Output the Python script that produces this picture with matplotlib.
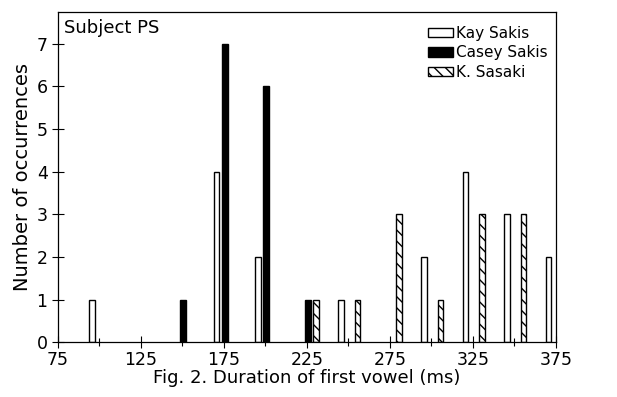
import numpy as np
import matplotlib.pyplot as plt
from matplotlib.patches import Patch

# duraciones (ms) y numero de ocurrencias por hablante
kay_ms = [95, 170, 195, 245, 295, 320, 345, 370]
kay_n = [1, 4, 2, 1, 2, 4, 3, 2]

casey_ms = [150, 175, 200, 225]
casey_n = [1, 7, 6, 1]

sasaki_ms = [230, 255, 280, 305, 330, 355]
sasaki_n = [1, 1, 3, 1, 3, 3]

xticks = [75, 125, 175, 225, 275, 325, 375]
yticks = [0, 1, 2, 3, 4, 5, 6, 7]

plt.rcParams['font.family'] = 'DejaVu Sans'
plt.rcParams['hatch.linewidth'] = 1.0

fig = plt.figure(figsize=(6.17, 3.97), dpi=100)
ax = fig.add_axes([0.094, 0.138, 0.807, 0.832])

w = 3.4
ax.bar(np.array(kay_ms) + 0.5, kay_n, width=w, color='white', edgecolor='black', linewidth=1.0)
ax.bar(np.array(casey_ms) + 0.5, casey_n, width=w, color='black', edgecolor='black', linewidth=1.0)
ax.bar(np.array(sasaki_ms) + 0.5, sasaki_n, width=w, color='white', edgecolor='black',
       linewidth=1.0, hatch='\\\\\\')

ax.set_xlim(75, 375)
ax.set_ylim(0, 7.75)
ax.set_xticks(xticks)
ax.set_xticks(np.arange(75, 376, 25), minor=True)
ax.set_yticks(yticks)
ax.tick_params(axis='both', which='both', direction='inout', length=8, width=0.8, labelsize=12.5)
ax.tick_params(axis='x', which='minor', length=6)
ax.tick_params(axis='x', pad=2)

ax.set_xlabel('Fig. 2. Duration of first vowel (ms)', fontsize=13, labelpad=0)
ax.set_ylabel('Number of occurrences', fontsize=14, labelpad=3)

ax.text(0.012, 0.98, 'Subject PS', transform=ax.transAxes, fontsize=13, va='top', ha='left')

handles = [Patch(facecolor='white', edgecolor='black', label='Kay Sakis'),
           Patch(facecolor='black', edgecolor='black', label='Casey Sakis'),
           Patch(facecolor='white', edgecolor='black', hatch='\\\\\\', label='K. Sasaki')]
ax.legend(handles=handles, loc='upper right', frameon=False, fontsize=11,
          handlelength=1.65, handleheight=0.55, handletextpad=0.2, labelspacing=0.3,
          borderaxespad=0.3, bbox_to_anchor=(1.005, 0.99))

for s in ax.spines.values():
    s.set_linewidth(0.9)

plt.savefig('out.png', dpi=100)
